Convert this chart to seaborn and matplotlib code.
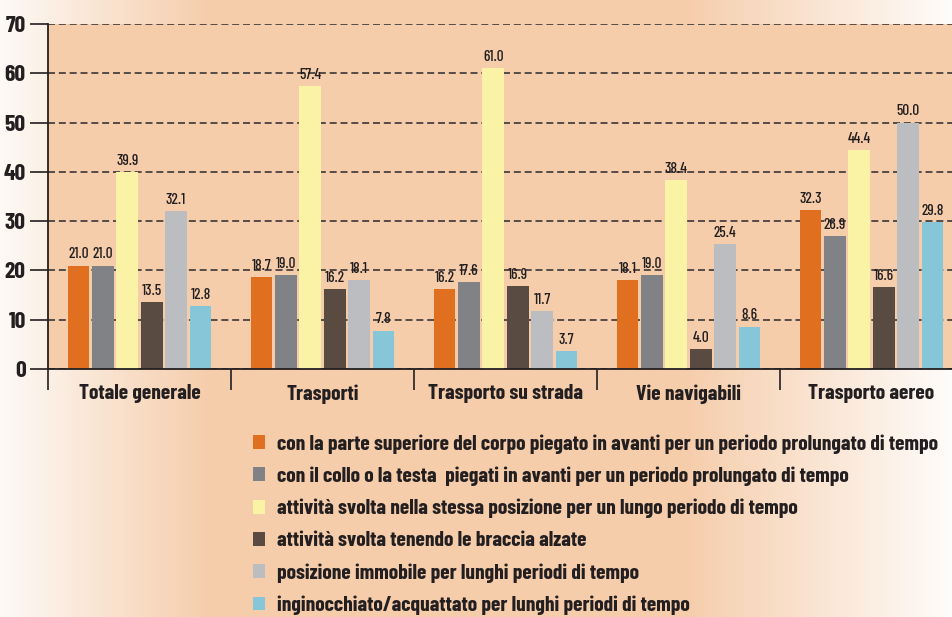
import matplotlib
matplotlib.use('Agg')
import matplotlib.pyplot as plt
import seaborn as sns
import pandas as pd
import numpy as np
from matplotlib.colors import LinearSegmentedColormap
import warnings
warnings.filterwarnings('ignore')

categorie = ['Totale generale', 'Trasporti', 'Trasporto su strada', 'Vie navigabili', 'Trasporto aereo']
serie = [
    'con la parte superiore del corpo piegato in avanti per un periodo prolungato di tempo',
    'con il collo o la testa  piegati in avanti per un periodo prolungato di tempo',
    'attività svolta nella stessa posizione per un lungo periodo di tempo',
    'attività svolta tenendo le braccia alzate',
    'posizione immobile per lunghi periodi di tempo',
    'inginocchiato/acquattato per lunghi periodi di tempo',
]
busto_piegato = [21.0, 18.7, 16.2, 18.1, 32.3]
collo_piegato = [21.0, 19.0, 17.6, 19.0, 26.9]
stessa_posizione = [39.9, 57.4, 61.0, 38.4, 44.4]
braccia_alzate = [13.5, 16.2, 16.9, 4.0, 16.6]
immobile = [32.1, 18.1, 11.7, 25.4, 50.0]
inginocchiato = [12.8, 7.8, 3.7, 8.6, 29.8]

colori = ['#e07020', '#818285', '#faf3a6', '#594a42', '#bcbdc1', '#87c5d8']
pesca = '#f6cdab'
testo = '#231f20'

valori = [busto_piegato, collo_piegato, stessa_posizione, braccia_alzate, immobile, inginocchiato]
righe = []
for s, vals in zip(serie, valori):
    for c, v in zip(categorie, vals):
        righe.append({'categoria': c, 'serie': s, 'valore': v})
df = pd.DataFrame(righe)

sns.set_style('white')
plt.rcParams['font.family'] = ['Barlow Condensed', 'DejaVu Sans']

fig = plt.figure(figsize=(9.52, 6.17), dpi=100)
fig.patch.set_facecolor('white')

# sfondo sfumato bianco -> pesca -> bianco
bg = fig.add_axes([0, 0, 1, 1], zorder=-10)
sfumato = LinearSegmentedColormap.from_list('sf', [(0, '#fdfaf6'), (0.22, pesca), (0.72, pesca), (1, '#fefcfa')])
bg.imshow(np.linspace(0, 1, 256)[None, :], aspect='auto', cmap=sfumato, extent=[0, 1, 0, 1])
bg.set_axis_off()

ax = fig.add_axes([48 / 952, 1 - 369 / 617, 915 / 952, 345 / 617])
ax.set_facecolor(pesca)

sns.barplot(data=df, x='categoria', y='valore', hue='serie', palette=colori,
            width=0.8, gap=0.1, saturation=1, linewidth=0, ax=ax)

for cont in ax.containers:
    ax.bar_label(cont, fmt='%.1f', padding=3, fontsize=11, fontweight='medium', color=testo)

ax.set_ylim(0, 70)
ax.set_xlim(-0.5, 4.5)
ax.set_yticks(range(0, 71, 10))
ax.set_yticklabels([str(v) for v in range(0, 71, 10)], fontsize=17, fontweight='bold', color=testo)
ax.yaxis.grid(True, linestyle=(0, (4.2, 2.3)), color='#3b3535', linewidth=1.2)
ax.set_axisbelow(True)
ax.tick_params(axis='y', length=13, width=1.2, color=testo, pad=3, direction='out', left=True)

ax.set_xticks(range(len(categorie)))
ax.set_xticklabels(categorie, fontsize=15.5, fontweight='bold', color=testo)
ax.set_xticks(np.arange(-0.5, 5, 1), minor=True)
ax.tick_params(axis='x', which='major', length=0, pad=11)
ax.tick_params(axis='x', which='minor', length=15, width=1.2, color=testo, bottom=True)
ax.set_xlabel('')
ax.set_ylabel('')

for lato in ['top', 'right']:
    ax.spines[lato].set_visible(False)
for lato in ['left', 'bottom']:
    ax.spines[lato].set_color(testo)
    ax.spines[lato].set_linewidth(1.3)

handles, labels = ax.get_legend_handles_labels()
ax.legend_.remove()
fig.legend(handles, labels, loc='upper left', bbox_to_anchor=(253 / 952, 1 - 434 / 617),
           frameon=False, prop={'weight': 'bold', 'size': 15.5},
           borderpad=0, borderaxespad=0,
           handlelength=0.56, handleheight=0.62, handletextpad=0.55, labelspacing=0.6,
           labelcolor=testo)

fig.savefig('out.png', dpi=100)
